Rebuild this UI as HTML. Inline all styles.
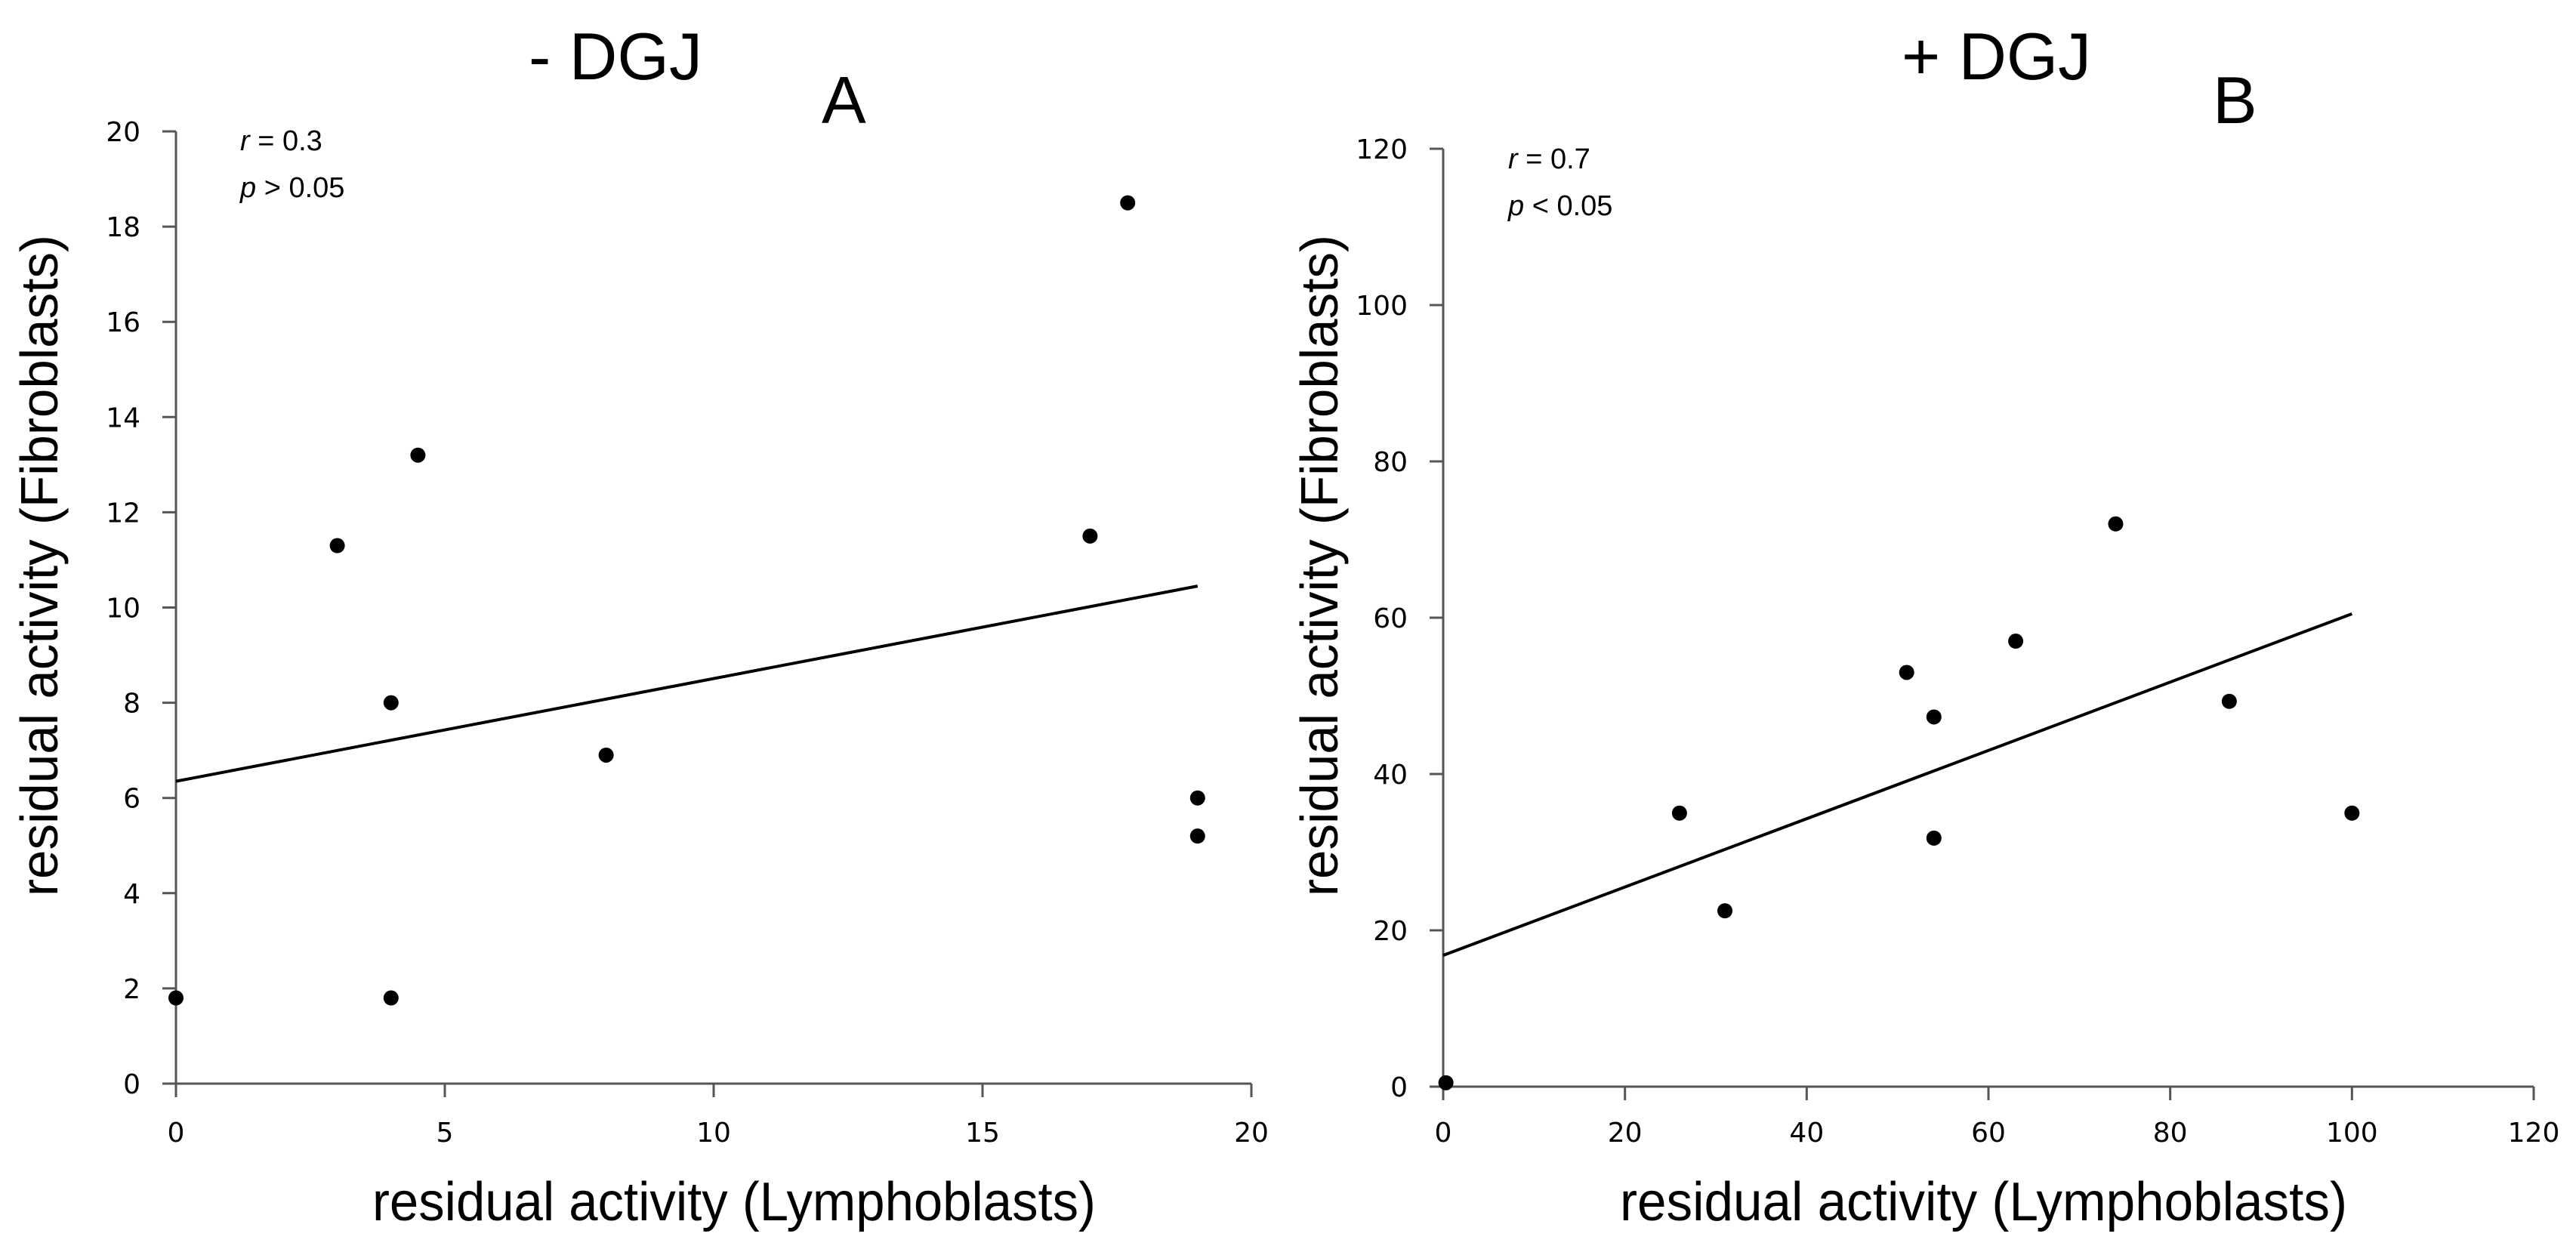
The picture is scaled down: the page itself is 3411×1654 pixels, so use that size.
<!DOCTYPE html>
<html><head><meta charset="utf-8"><style>
html,body{margin:0;padding:0;background:#fff;}
svg{display:block;font-family:"Liberation Sans",sans-serif;}
</style></head><body>
<svg id="fig" width="3411" height="1654" viewBox="0 0 3411 1654" xmlns="http://www.w3.org/2000/svg">
<rect width="3411" height="1654" fill="#fff"/>
<g id="panelA"></g>
<g id="panelB"></g>
</svg>
<script>
// Panel A data
const aX = [0, 3, 4, 4, 4.5, 8, 17, 17.7, 19, 19];
const aY = [1.8, 11.3, 8, 1.8, 13.2, 6.9, 11.5, 18.5, 6, 5.2];
const aLineX = [0, 19];
const aLineY = [6.35, 10.45];
const aXTicks = [0, 5, 10, 15, 20];
const aYTicks = [0, 2, 4, 6, 8, 10, 12, 14, 16, 18, 20];
// Panel B data
const bX = [0.3, 26, 31, 51, 54, 54, 63, 74, 86.5, 100];
const bY = [0.5, 35, 22.5, 53, 47.3, 31.8, 57, 72, 49.3, 35];
const bLineX = [0, 100];
const bLineY = [16.8, 60.5];
const bXTicks = [0, 20, 40, 60, 80, 100, 120];
const bYTicks = [0, 20, 40, 60, 80, 100, 120];

const NS = "http://www.w3.org/2000/svg";
function mk(parent, tag, attrs, text) {
  const e = document.createElementNS(NS, tag);
  for (const k in attrs) e.setAttribute(k, attrs[k]);
  if (text !== undefined) e.textContent = text;
  parent.appendChild(e);
  return e;
}
const TICKFONT = '"DejaVu Sans", "Liberation Sans", sans-serif';

function panel(g, cfg) {
  const sx = v => cfg.x0 + (v - cfg.xmin) / (cfg.xmax - cfg.xmin) * (cfg.x1 - cfg.x0);
  const sy = v => cfg.y0 - (v - cfg.ymin) / (cfg.ymax - cfg.ymin) * (cfg.y0 - cfg.y1);
  const axis = "#555";
  let e;
  e = mk(g, "line", {x1: cfg.x0, y1: cfg.y0, x2: cfg.x0, y2: cfg.y1, stroke: axis, "stroke-width": 3});
  
  
  e = mk(g, "line", {x1: cfg.x0, y1: cfg.y0, x2: cfg.x1, y2: cfg.y0, stroke: axis, "stroke-width": 3});
  
  
  cfg.yTicks.forEach(t => {
    const y = sy(t);
    e = mk(g, "line", {x1: cfg.x0 - 18, y1: y, x2: cfg.x0, y2: y, stroke: axis, "stroke-width": 3});
    
    
    e = mk(g, "text", {x: cfg.yLabelRight, y: y + 13, "font-size": 36, "font-family": TICKFONT, "text-anchor": "end", fill: "#000"}, String(t));
    
    
  });
  cfg.xTicks.forEach(t => {
    const x = sx(t);
    e = mk(g, "line", {x1: x, y1: cfg.y0, x2: x, y2: cfg.y0 + 18, stroke: axis, "stroke-width": 3});
    
    
    e = mk(g, "text", {x: x, y: 1512, "font-size": 36, "font-family": TICKFONT, "text-anchor": "middle", fill: "#000"}, String(t));
    
    
  });
  e = mk(g, "line", {x1: sx(cfg.lx[0]), y1: sy(cfg.ly[0]), x2: sx(cfg.lx[1]), y2: sy(cfg.ly[1]), stroke: "#000", "stroke-width": 4});
  
  
  cfg.xs.forEach((v, i) => {
    e = mk(g, "circle", {cx: sx(v), cy: sy(cfg.ys[i]), r: 10, fill: "#000"});
    
    
  });
  e = mk(g, "text", {x: cfg.annX, y: cfg.annY, "font-size": 38, fill: "#000"});
  
  
  mk(e, "tspan", {"font-style": "italic"}, "r");
  mk(e, "tspan", {}, cfg.rText);
  e = mk(g, "text", {x: cfg.annX, y: cfg.annY + 62, "font-size": 38, fill: "#000"});
  
  
  mk(e, "tspan", {"font-style": "italic"}, "p");
  mk(e, "tspan", {}, cfg.pText);
  e = mk(g, "text", {x: cfg.titleX, y: 105, "font-size": 88, fill: "#000", textLength: cfg.titleW, lengthAdjust: "spacingAndGlyphs"}, cfg.title);
  
  
  e = mk(g, "text", {x: cfg.letterX, y: 163, "font-size": 88, fill: "#000"}, cfg.letter);
  
  
  e = mk(g, "text", {x: cfg.xtX, y: 1616, "font-size": 72, fill: "#000", textLength: cfg.xtW, lengthAdjust: "spacingAndGlyphs"}, "residual activity (Lymphoblasts)");
  
  
  e = mk(g, "text", {x: 0, y: 0, "font-size": 70, fill: "#000", "text-anchor": "middle", textLength: 876, lengthAdjust: "spacingAndGlyphs", transform: "translate(" + cfg.ytX + ",749) rotate(-90)"}, "residual activity (Fibroblasts)");
  
  
}

panel(document.getElementById("panelA"), {
  x0: 233, x1: 1657, y0: 1435, y1: 174, xmin: 0, xmax: 20, ymin: 0, ymax: 20,
  xTicks: aXTicks, yTicks: aYTicks, xs: aX, ys: aY, lx: aLineX, ly: aLineY,
  yLabelRight: 186, annX: 318, annY: 199, rText: " = 0.3", pText: " > 0.05",
  title: "- DGJ", titleX: 700, titleW: 230, letter: "A", letterX: 1088,
  xtX: 493, xtW: 958, ytX: 76
});
panel(document.getElementById("panelB"), {
  x0: 1911, x1: 3355, y0: 1439, y1: 197, xmin: 0, xmax: 120, ymin: 0, ymax: 120,
  xTicks: bXTicks, yTicks: bYTicks, xs: bX, ys: bY, lx: bLineX, ly: bLineY,
  yLabelRight: 1864, annX: 1997, annY: 223, rText: " = 0.7", pText: " < 0.05",
  title: "+ DGJ", titleX: 2518, titleW: 251, letter: "B", letterX: 2930,
  xtX: 2145, xtW: 963, ytX: 1771
});
</script>
</body></html>
